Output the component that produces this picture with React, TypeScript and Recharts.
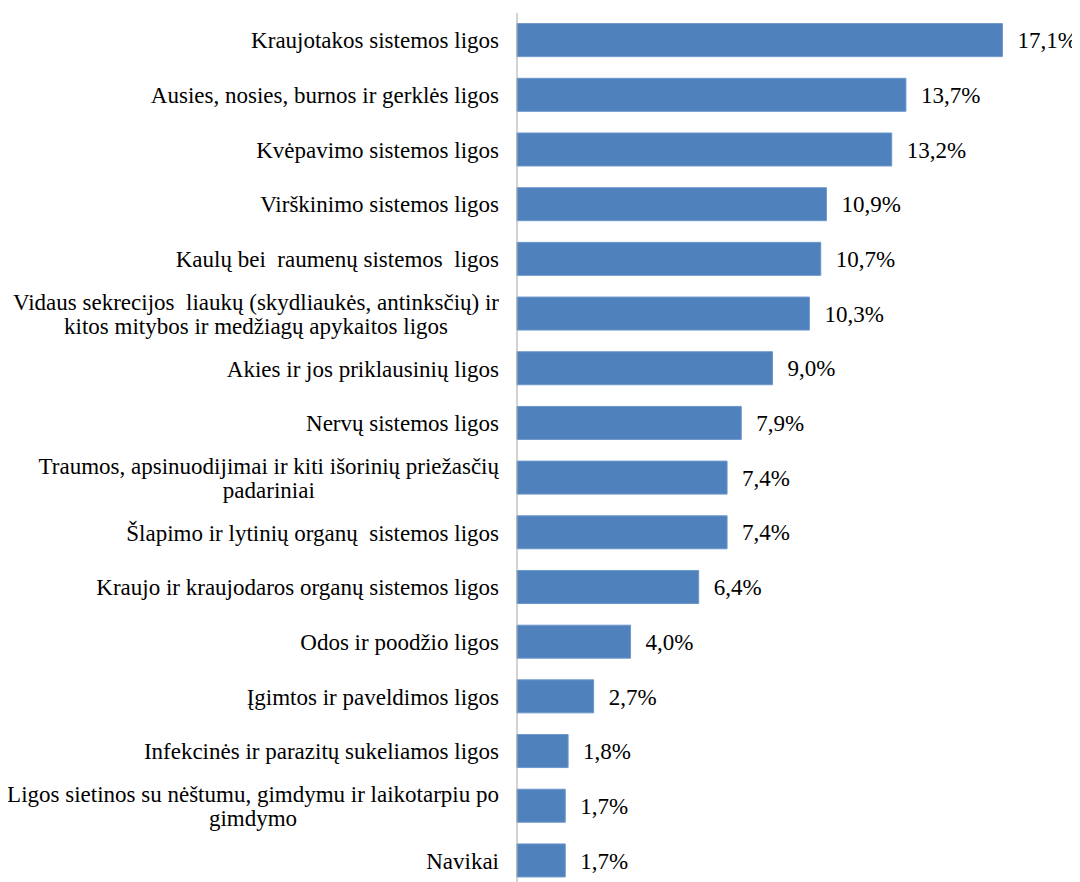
import React from 'react';
import { BarChart, Bar, XAxis, YAxis, LabelList } from 'recharts';

const categories: string[] = [
  'Kraujotakos sistemos ligos',
  'Ausies, nosies, burnos ir gerklės ligos',
  'Kvėpavimo sistemos ligos',
  'Virškinimo sistemos ligos',
  'Kaulų bei  raumenų sistemos  ligos',
  'Vidaus sekrecijos  liaukų (skydliaukės, antinksčių) ir\nkitos mitybos ir medžiagų apykaitos ligos',
  'Akies ir jos priklausinių ligos',
  'Nervų sistemos ligos',
  'Traumos, apsinuodijimai ir kiti išorinių priežasčių\npadariniai',
  'Šlapimo ir lytinių organų  sistemos ligos',
  'Kraujo ir kraujodaros organų sistemos ligos',
  'Odos ir poodžio ligos',
  'Įgimtos ir paveldimos ligos',
  'Infekcinės ir parazitų sukeliamos ligos',
  'Ligos sietinos su nėštumu, gimdymu ir laikotarpiu po\ngimdymo',
  'Navikai',
];

const values: number[] = [17.1, 13.7, 13.2, 10.9, 10.7, 10.3, 9.0, 7.9, 7.4, 7.4, 6.4, 4.0, 2.7, 1.8, 1.7, 1.7];

const data = categories.map((name, i) => ({ name, value: values[i] }));

const FONT = 'Liberation Serif';
const FONT_SIZE = 23;

let ctx: CanvasRenderingContext2D | null = null;
function measure(text: string): number {
  if (!ctx) {
    const c = document.createElement('canvas');
    ctx = c.getContext('2d');
  }
  if (!ctx) return text.length * FONT_SIZE * 0.42;
  ctx.font = `${FONT_SIZE}px "${FONT}"`;
  return ctx.measureText(text).width;
}

const textStyle: React.CSSProperties = { whiteSpace: 'pre', fontFamily: FONT, fontSize: FONT_SIZE };

const CategoryTick = (props: any) => {
  const { x, y, payload } = props;
  const lines: string[] = String(payload.value).split('\n');
  const right = x - 18;
  if (lines.length === 1) {
    return (
      <text x={right} y={y} dy="0.35em" textAnchor="end" fill="#000" style={textStyle}>
        {lines[0]}
      </text>
    );
  }
  const maxW = Math.max(...lines.map(measure));
  const cx = right - maxW / 2;
  const lh = 24;
  const start = -((lines.length - 1) * lh) / 2;
  return (
    <text textAnchor="middle" fill="#000" style={textStyle}>
      {lines.map((l, i) => (
        <tspan key={i} x={cx} y={y + start + i * lh} dy="0.35em">
          {l}
        </tspan>
      ))}
    </text>
  );
};

const fmt = (v: any) => `${Number(v).toFixed(1).replace('.', ',')}%`;

export default function App() {
  return (
    <div style={{ fontFamily: FONT }}>
      <BarChart
        width={1072}
        height={880}
        data={data}
        layout="vertical"
        margin={{ top: 5, right: 52, bottom: 0, left: 0 }}
        barCategoryGap="19.4%"
        style={{ fontFamily: FONT }}
      >
        <XAxis type="number" domain={[0, 18]} hide />
        <YAxis
          type="category"
          dataKey="name"
          width={509}
          tickLine={false}
          tickSize={0}
          tickMargin={0}
          axisLine={{ stroke: '#a6a6a6', strokeWidth: 1 }}
          tick={<CategoryTick />}
          interval={0}
        />
        <Bar dataKey="value" fill="#4f81bd" stroke="#6d97cb" strokeWidth={1} isAnimationActive={false}>
          <LabelList
            dataKey="value"
            position="right"
            offset={15}
            formatter={fmt}
            fill="#000"
            style={{ fontFamily: FONT, fontSize: FONT_SIZE }}
          />
        </Bar>
      </BarChart>
    </div>
  );
}
